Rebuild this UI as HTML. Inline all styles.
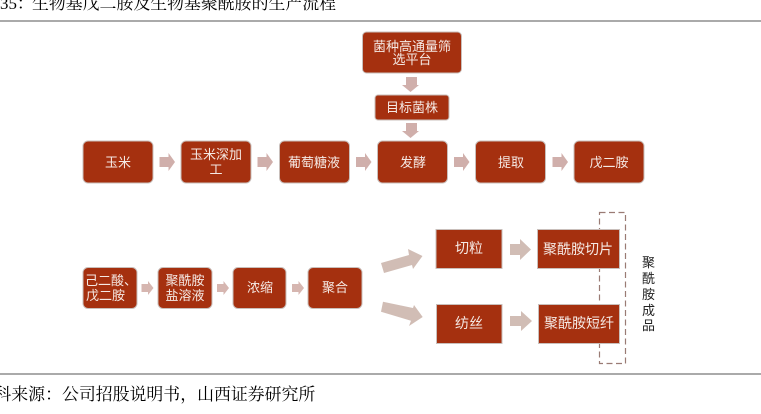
<!DOCTYPE html>
<html lang="zh-CN"><head><meta charset="utf-8"><style>
html,body{margin:0;padding:0;background:#fff;width:761px;height:414px;overflow:hidden}
svg{display:block;filter:blur(.3px)}
.b{fill:#A5300F;stroke:#C9BFBB;stroke-width:1}
.t{fill:#F5E9E4;font-family:"Liberation Sans","Noto Sans CJK SC",sans-serif;font-size:13px;text-anchor:middle}
.m{font-size:14px}
.k{fill:#000;font-family:"Liberation Serif","Noto Serif CJK SC",serif;font-size:16.9px}
.v{fill:#222;font-family:"Liberation Sans","Noto Sans CJK SC",sans-serif;font-size:13px;text-anchor:middle}
</style></head><body>
<svg width="761" height="414" viewBox="0 0 761 414" xmlns="http://www.w3.org/2000/svg">
<text class="k" x="0" y="9">35：</text>
<text class="k" x="32" y="9">生物基戊二胺及生物基聚酰胺的生产流程</text>
<rect x="0" y="20.500" width="761" height="1" fill="#555"/>
<rect x="0" y="373.500" width="761" height="1" fill="#555"/>
<text class="k" x="-5.600" y="400">科来源：公司招股说明书，山西证券研究所</text>

<rect x="599.500" y="212.500" width="26" height="151" fill="none" stroke="#9A7B74" stroke-width="1.2" stroke-dasharray="6 3.5"/>

<g>
<rect class="b" x="362.500" y="32" width="99" height="41" rx="4"/>
<rect class="b" x="375" y="95" width="74" height="25" rx="3"/>
<rect class="b" x="83" y="141" width="70" height="42" rx="5"/>
<rect class="b" x="181" y="141" width="70" height="42" rx="5"/>
<rect class="b" x="279.500" y="141" width="70" height="42" rx="5"/>
<rect class="b" x="377.500" y="141" width="70" height="42" rx="5"/>
<rect class="b" x="475.500" y="141" width="70" height="42" rx="5"/>
<rect class="b" x="574" y="141" width="70" height="42" rx="5"/>
<rect class="b" x="83" y="267.500" width="54" height="41" rx="5"/>
<rect class="b" x="158" y="267.500" width="54" height="41" rx="5"/>
<rect class="b" x="233" y="267.500" width="53" height="41" rx="5"/>
<rect class="b" x="308" y="267.500" width="54" height="41" rx="5"/>
<rect class="b" x="436" y="229.500" width="66" height="39"/>
<rect class="b" x="537.500" y="229.500" width="82" height="39"/>
<rect class="b" x="436.500" y="304.500" width="65.500" height="39"/>
<rect class="b" x="538.500" y="304.500" width="81" height="39"/>
</g>

<g fill="#D0AFAB">
<path d="M159.500 157h9v-4l6.500 9-6.500 9v-4h-9z"/>
<path d="M257.500 157h9v-4l6.500 9-6.500 9v-4h-9z"/>
<path d="M356 157h9v-4l6.500 9-6.500 9v-4h-9z"/>
<path d="M454 157h9v-4l6.500 9-6.500 9v-4h-9z"/>
<path d="M552.500 157h9v-4l6.500 9-6.500 9v-4h-9z"/>
<path d="M406 77h11v8h2l-8.500 7-8.500-7h4z"/>
<path d="M406 123h11v8h2l-8.500 7-8.500-7h4z"/>
</g>
<g fill="#D6B6B0">
<path d="M141.500 284h6.500v-3l5.500 7-5.500 7v-3h-6.500z"/>
<path d="M217 284h6.500v-3l5.500 7-5.500 7v-3h-6.500z"/>
<path d="M292 284h6.500v-3l5.500 7-5.500 7v-3h-6.500z"/>
</g>
<g fill="#D1BDB5">
<path d="M510 244h10v-5l11 10.500-11 10.500v-5h-10z"/>
<path d="M510 316h11v-5l11 10-11 10v-5h-11z"/>
<path d="M381 263L409 255L408 249L422.500 256L413 269L412 265L384 273z"/>
<path d="M383 301.700L413 308L414 305L422.700 317L409 326L411 320.700L381 311.700z"/>
</g>

<g>
<text class="t" x="412" y="51">菌种高通量筛</text>
<text class="t" x="412" y="64">选平台</text>
<text class="t" x="412" y="112">目标菌株</text>
<text class="t" x="118" y="167">玉米</text>
<text class="t" x="216" y="159">玉米深加</text>
<text class="t" x="216" y="174">工</text>
<text class="t" x="314" y="167">葡萄糖液</text>
<text class="t" x="413" y="167">发酵</text>
<text class="t" x="511" y="167">提取</text>
<text class="t" x="609" y="167">戊二胺</text>
<text class="t" x="85" y="285" style="text-anchor:start">己二酸、</text>
<text class="t" x="105.500" y="300">戊二胺</text>
<text class="t" x="185" y="285">聚酰胺</text>
<text class="t" x="185" y="300">盐溶液</text>
<text class="t" x="260" y="292">浓缩</text>
<text class="t" x="335" y="292">聚合</text>
<text class="t m" x="469" y="253">切粒</text>
<text class="t m" x="578" y="254">聚酰胺切片</text>
<text class="t m" x="469" y="328">纺丝</text>
<text class="t m" x="579" y="328">聚酰胺短纤</text>
</g>
<g>
<text class="v" x="648.500" y="267">聚</text>
<text class="v" x="648.500" y="283">酰</text>
<text class="v" x="648.500" y="299">胺</text>
<text class="v" x="648.500" y="315">成</text>
<text class="v" x="648.500" y="330">品</text>
</g>
</svg>
</body></html>
